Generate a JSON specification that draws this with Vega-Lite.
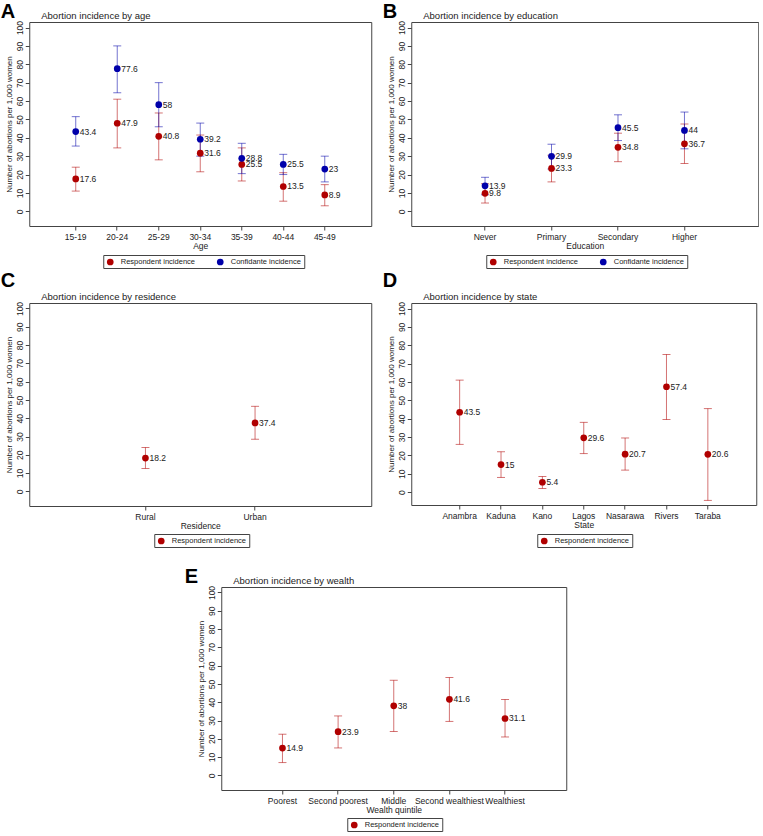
{
  "$schema": "https://vega.github.io/schema/vega-lite/v6.json",
  "background": "white",
  "padding": {"left": 0, "top": 2, "right": 0, "bottom": 0},
  "config": {
    "font": "Liberation Sans",
    "view": {"stroke": "#444", "strokeWidth": 1},
    "axis": {"labelFontSize": 8.5, "titleFontSize": 8, "titleFontWeight": "normal", "labelColor": "#222", "titleColor": "#222", "tickColor": "#444", "grid": false, "domain": false, "tickSize": 4},
    "axisX": {"labelAngle": 0, "labelPadding": 2, "titlePadding": 1, "titleFontSize": 8.5},
    "axisY": {"labelAngle": 270, "labelAlign": "center", "labelBaseline": "bottom", "labelPadding": 1, "titlePadding": 2, "labelOverlap": false},
    "legend": {"orient": "none", "direction": "horizontal", "strokeColor": "#444", "padding": 2.5, "labelFontSize": 7.5, "labelColor": "#222", "symbolType": "circle", "symbolSize": 45, "columnPadding": 20, "labelOffset": 6},
    "title": {"color": "#222"}
  },
  "datasets": {
    "age": [
      {"grp": "15-19", "series": "Respondent incidence", "value": 17.6, "lo": 11, "hi": 24},
      {"grp": "20-24", "series": "Respondent incidence", "value": 47.9, "lo": 34.5, "hi": 61},
      {"grp": "25-29", "series": "Respondent incidence", "value": 40.8, "lo": 28, "hi": 53.5},
      {"grp": "30-34", "series": "Respondent incidence", "value": 31.6, "lo": 21.5, "hi": 41.5},
      {"grp": "35-39", "series": "Respondent incidence", "value": 25.5, "lo": 16.5, "hi": 34.5},
      {"grp": "40-44", "series": "Respondent incidence", "value": 13.5, "lo": 5.5, "hi": 21},
      {"grp": "45-49", "series": "Respondent incidence", "value": 8.9, "lo": 3, "hi": 14.5},
      {"grp": "15-19", "series": "Confidante incidence", "value": 43.4, "lo": 35.5, "hi": 51.5},
      {"grp": "20-24", "series": "Confidante incidence", "value": 77.6, "lo": 64.5, "hi": 90},
      {"grp": "25-29", "series": "Confidante incidence", "value": 58, "lo": 46, "hi": 70},
      {"grp": "30-34", "series": "Confidante incidence", "value": 39.2, "lo": 30, "hi": 48},
      {"grp": "35-39", "series": "Confidante incidence", "value": 28.8, "lo": 20.5, "hi": 37},
      {"grp": "40-44", "series": "Confidante incidence", "value": 25.5, "lo": 20, "hi": 31},
      {"grp": "45-49", "series": "Confidante incidence", "value": 23, "lo": 16, "hi": 30}
    ],
    "edu": [
      {"grp": "Never", "series": "Respondent incidence", "value": 9.8, "lo": 4.5, "hi": 15},
      {"grp": "Primary", "series": "Respondent incidence", "value": 23.3, "lo": 16, "hi": 30.5},
      {"grp": "Secondary", "series": "Respondent incidence", "value": 34.8, "lo": 27, "hi": 42.5},
      {"grp": "Higher", "series": "Respondent incidence", "value": 36.7, "lo": 26, "hi": 47.5},
      {"grp": "Never", "series": "Confidante incidence", "value": 13.9, "lo": 9, "hi": 18.5},
      {"grp": "Primary", "series": "Confidante incidence", "value": 29.9, "lo": 23, "hi": 36.5},
      {"grp": "Secondary", "series": "Confidante incidence", "value": 45.5, "lo": 38.5, "hi": 52.5},
      {"grp": "Higher", "series": "Confidante incidence", "value": 44, "lo": 34, "hi": 54}
    ],
    "res": [
      {"grp": "Rural", "series": "Respondent incidence", "value": 18.2, "lo": 12.5, "hi": 24},
      {"grp": "Urban", "series": "Respondent incidence", "value": 37.4, "lo": 28.5, "hi": 46.5}
    ],
    "state": [
      {"grp": "Anambra", "series": "Respondent incidence", "value": 43.5, "lo": 26, "hi": 61},
      {"grp": "Kaduna", "series": "Respondent incidence", "value": 15, "lo": 8, "hi": 22},
      {"grp": "Kano", "series": "Respondent incidence", "value": 5.4, "lo": 2, "hi": 8.5},
      {"grp": "Lagos", "series": "Respondent incidence", "value": 29.6, "lo": 21, "hi": 38},
      {"grp": "Nasarawa", "series": "Respondent incidence", "value": 20.7, "lo": 12, "hi": 29.5},
      {"grp": "Rivers", "series": "Respondent incidence", "value": 57.4, "lo": 39.5, "hi": 75},
      {"grp": "Taraba", "series": "Respondent incidence", "value": 20.6, "lo": -4.5, "hi": 45.5}
    ],
    "wealth": [
      {"grp": "Poorest", "series": "Respondent incidence", "value": 14.9, "lo": 7, "hi": 22.5},
      {"grp": "Second poorest", "series": "Respondent incidence", "value": 23.9, "lo": 15, "hi": 32.5},
      {"grp": "Middle", "series": "Respondent incidence", "value": 38, "lo": 24, "hi": 52},
      {"grp": "Second wealthiest", "series": "Respondent incidence", "value": 41.6, "lo": 29.5, "hi": 53.5},
      {"grp": "Wealthiest", "series": "Respondent incidence", "value": 31.1, "lo": 21, "hi": 41.5}
    ]
  },
  "resolve": {"scale": {"x": "independent", "y": "independent", "color": "independent"}, "legend": {"color": "independent"}},
  "center": true,
  "spacing": 19,
  "vconcat": [
    {
      "resolve": {"scale": {"x": "independent", "y": "independent", "color": "independent"}, "legend": {"color": "independent"}},
      "spacing": 2,
      "vconcat": [
        {
          "resolve": {"scale": {"x": "independent", "y": "independent", "color": "independent"}, "legend": {"color": "independent"}},
          "spacing": 10,
          "hconcat": [
            {
              "title": {"text": "A", "anchor": "start", "frame": "bounds", "fontSize": 20, "fontWeight": "bold", "color": "black", "offset": -12, "dx": -4},
              "resolve": {"scale": {"x": "independent", "y": "independent", "color": "independent"}, "legend": {"color": "independent"}},
              "vconcat": [
                {
                  "width": 342,
                  "height": 204,
                  "title": {"text": "Abortion incidence by age", "anchor": "start", "frame": "group", "dx": 12, "fontSize": 9.5, "fontWeight": "normal", "offset": 0},
                  "data": {"name": "age"},
                  "encoding": {
                    "x": {"field": "grp", "type": "ordinal", "sort": null, "scale": {"type": "band", "paddingInner": 0, "paddingOuter": 0.62}, "axis": {"title": "Age"}},
                    "y": {"field": "value", "type": "quantitative", "scale": {"domain": [-8, 103], "nice": false, "zero": false}, "axis": {"title": "Number of abortions per 1,000 women", "values": [0, 10, 20, 30, 40, 50, 60, 70, 80, 90, 100]}}
                  },
                  "layer": [
                    {"transform": [{"filter": "datum.series === 'Respondent incidence'"}], "mark": {"type": "rule", "color": "#b00000", "opacity": 0.55}, "encoding": {"y": {"field": "lo", "type": "quantitative", "axis": {"title": "Number of abortions per 1,000 women", "values": [0, 10, 20, 30, 40, 50, 60, 70, 80, 90, 100]}}, "y2": {"field": "hi"}}},
                    {"transform": [{"filter": "datum.series === 'Respondent incidence'"}], "mark": {"type": "tick", "color": "#b00000", "opacity": 0.55, "size": 8, "thickness": 1}, "encoding": {"y": {"field": "lo", "type": "quantitative", "axis": {"title": "Number of abortions per 1,000 women", "values": [0, 10, 20, 30, 40, 50, 60, 70, 80, 90, 100]}}}},
                    {"transform": [{"filter": "datum.series === 'Respondent incidence'"}], "mark": {"type": "tick", "color": "#b00000", "opacity": 0.55, "size": 8, "thickness": 1}, "encoding": {"y": {"field": "hi", "type": "quantitative", "axis": {"title": "Number of abortions per 1,000 women", "values": [0, 10, 20, 30, 40, 50, 60, 70, 80, 90, 100]}}}},
                    {"transform": [{"filter": "datum.series === 'Confidante incidence'"}], "mark": {"type": "rule", "color": "#0000aa", "opacity": 0.55}, "encoding": {"y": {"field": "lo", "type": "quantitative", "axis": {"title": "Number of abortions per 1,000 women", "values": [0, 10, 20, 30, 40, 50, 60, 70, 80, 90, 100]}}, "y2": {"field": "hi"}}},
                    {"transform": [{"filter": "datum.series === 'Confidante incidence'"}], "mark": {"type": "tick", "color": "#0000aa", "opacity": 0.55, "size": 8, "thickness": 1}, "encoding": {"y": {"field": "lo", "type": "quantitative", "axis": {"title": "Number of abortions per 1,000 women", "values": [0, 10, 20, 30, 40, 50, 60, 70, 80, 90, 100]}}}},
                    {"transform": [{"filter": "datum.series === 'Confidante incidence'"}], "mark": {"type": "tick", "color": "#0000aa", "opacity": 0.55, "size": 8, "thickness": 1}, "encoding": {"y": {"field": "hi", "type": "quantitative", "axis": {"title": "Number of abortions per 1,000 women", "values": [0, 10, 20, 30, 40, 50, 60, 70, 80, 90, 100]}}}},
                    {"mark": {"type": "circle", "size": 45, "opacity": 1}, "encoding": {"color": {"field": "series", "type": "nominal", "sort": null, "scale": {"domain": ["Respondent incidence", "Confidante incidence"], "range": ["#b00000", "#0000aa"]}, "legend": {"title": null, "orient": "none", "legendX": 74, "legendY": 233}}}},
                    {"mark": {"type": "text", "align": "left", "dx": 4, "fontSize": 8.5, "color": "#222"}, "encoding": {"text": {"field": "value", "type": "quantitative"}}}
                  ]
                }
              ]
            },
            {
              "title": {"text": "B", "anchor": "start", "frame": "bounds", "fontSize": 20, "fontWeight": "bold", "color": "black", "offset": -12, "dx": -4},
              "resolve": {"scale": {"x": "independent", "y": "independent", "color": "independent"}, "legend": {"color": "independent"}},
              "vconcat": [
                {
                  "width": 347,
                  "height": 204,
                  "title": {"text": "Abortion incidence by education", "anchor": "start", "frame": "group", "dx": 12, "fontSize": 9.5, "fontWeight": "normal", "offset": 0},
                  "data": {"name": "edu"},
                  "encoding": {
                    "x": {"field": "grp", "type": "ordinal", "sort": null, "scale": {"type": "band", "paddingInner": 0, "paddingOuter": 0.61}, "axis": {"title": "Education"}},
                    "y": {"field": "value", "type": "quantitative", "scale": {"domain": [-8, 103], "nice": false, "zero": false}, "axis": {"title": "Number of abortions per 1,000 women", "values": [0, 10, 20, 30, 40, 50, 60, 70, 80, 90, 100]}}
                  },
                  "layer": [
                    {"transform": [{"filter": "datum.series === 'Respondent incidence'"}], "mark": {"type": "rule", "color": "#b00000", "opacity": 0.55}, "encoding": {"y": {"field": "lo", "type": "quantitative", "axis": {"title": "Number of abortions per 1,000 women", "values": [0, 10, 20, 30, 40, 50, 60, 70, 80, 90, 100]}}, "y2": {"field": "hi"}}},
                    {"transform": [{"filter": "datum.series === 'Respondent incidence'"}], "mark": {"type": "tick", "color": "#b00000", "opacity": 0.55, "size": 8, "thickness": 1}, "encoding": {"y": {"field": "lo", "type": "quantitative", "axis": {"title": "Number of abortions per 1,000 women", "values": [0, 10, 20, 30, 40, 50, 60, 70, 80, 90, 100]}}}},
                    {"transform": [{"filter": "datum.series === 'Respondent incidence'"}], "mark": {"type": "tick", "color": "#b00000", "opacity": 0.55, "size": 8, "thickness": 1}, "encoding": {"y": {"field": "hi", "type": "quantitative", "axis": {"title": "Number of abortions per 1,000 women", "values": [0, 10, 20, 30, 40, 50, 60, 70, 80, 90, 100]}}}},
                    {"transform": [{"filter": "datum.series === 'Confidante incidence'"}], "mark": {"type": "rule", "color": "#0000aa", "opacity": 0.55}, "encoding": {"y": {"field": "lo", "type": "quantitative", "axis": {"title": "Number of abortions per 1,000 women", "values": [0, 10, 20, 30, 40, 50, 60, 70, 80, 90, 100]}}, "y2": {"field": "hi"}}},
                    {"transform": [{"filter": "datum.series === 'Confidante incidence'"}], "mark": {"type": "tick", "color": "#0000aa", "opacity": 0.55, "size": 8, "thickness": 1}, "encoding": {"y": {"field": "lo", "type": "quantitative", "axis": {"title": "Number of abortions per 1,000 women", "values": [0, 10, 20, 30, 40, 50, 60, 70, 80, 90, 100]}}}},
                    {"transform": [{"filter": "datum.series === 'Confidante incidence'"}], "mark": {"type": "tick", "color": "#0000aa", "opacity": 0.55, "size": 8, "thickness": 1}, "encoding": {"y": {"field": "hi", "type": "quantitative", "axis": {"title": "Number of abortions per 1,000 women", "values": [0, 10, 20, 30, 40, 50, 60, 70, 80, 90, 100]}}}},
                    {"mark": {"type": "circle", "size": 45, "opacity": 1}, "encoding": {"color": {"field": "series", "type": "nominal", "sort": null, "scale": {"domain": ["Respondent incidence", "Confidante incidence"], "range": ["#b00000", "#0000aa"]}, "legend": {"title": null, "orient": "none", "legendX": 75, "legendY": 233}}}},
                    {"mark": {"type": "text", "align": "left", "dx": 4, "fontSize": 8.5, "color": "#222"}, "encoding": {"text": {"field": "value", "type": "quantitative"}}}
                  ]
                }
              ]
            }
          ]
        },
        {
          "resolve": {"scale": {"x": "independent", "y": "independent", "color": "independent"}, "legend": {"color": "independent"}},
          "spacing": 10,
          "hconcat": [
            {
              "title": {"text": "C", "anchor": "start", "frame": "bounds", "fontSize": 20, "fontWeight": "bold", "color": "black", "offset": 0, "dx": -4},
              "resolve": {"scale": {"x": "independent", "y": "independent", "color": "independent"}, "legend": {"color": "independent"}},
              "vconcat": [
                {
                  "width": 342,
                  "height": 203,
                  "title": {"text": "Abortion incidence by residence", "anchor": "start", "frame": "group", "dx": 12, "fontSize": 9.5, "fontWeight": "normal", "offset": 0},
                  "data": {"name": "res"},
                  "encoding": {
                    "x": {"field": "grp", "type": "ordinal", "sort": null, "scale": {"type": "band", "paddingInner": 0, "paddingOuter": 0.56}, "axis": {"title": "Residence"}},
                    "y": {"field": "value", "type": "quantitative", "scale": {"domain": [-8, 103], "nice": false, "zero": false}, "axis": {"title": "Number of abortions per 1,000 women", "values": [0, 10, 20, 30, 40, 50, 60, 70, 80, 90, 100]}}
                  },
                  "layer": [
                    {"mark": {"type": "rule", "color": "#b00000", "opacity": 0.55}, "encoding": {"y": {"field": "lo", "type": "quantitative", "axis": {"title": "Number of abortions per 1,000 women", "values": [0, 10, 20, 30, 40, 50, 60, 70, 80, 90, 100]}}, "y2": {"field": "hi"}}},
                    {"mark": {"type": "tick", "color": "#b00000", "opacity": 0.55, "size": 8, "thickness": 1}, "encoding": {"y": {"field": "lo", "type": "quantitative", "axis": {"title": "Number of abortions per 1,000 women", "values": [0, 10, 20, 30, 40, 50, 60, 70, 80, 90, 100]}}}},
                    {"mark": {"type": "tick", "color": "#b00000", "opacity": 0.55, "size": 8, "thickness": 1}, "encoding": {"y": {"field": "hi", "type": "quantitative", "axis": {"title": "Number of abortions per 1,000 women", "values": [0, 10, 20, 30, 40, 50, 60, 70, 80, 90, 100]}}}},
                    {"mark": {"type": "circle", "size": 45, "opacity": 1}, "encoding": {"color": {"field": "series", "type": "nominal", "scale": {"domain": ["Respondent incidence"], "range": ["#b00000"]}, "legend": {"title": null, "orient": "none", "legendX": 125, "legendY": 231}}}},
                    {"mark": {"type": "text", "align": "left", "dx": 4, "fontSize": 8.5, "color": "#222"}, "encoding": {"text": {"field": "value", "type": "quantitative"}}}
                  ]
                }
              ]
            },
            {
              "title": {"text": "D", "anchor": "start", "frame": "bounds", "fontSize": 20, "fontWeight": "bold", "color": "black", "offset": 0, "dx": -4},
              "resolve": {"scale": {"x": "independent", "y": "independent", "color": "independent"}, "legend": {"color": "independent"}},
              "vconcat": [
                {
                  "width": 345,
                  "height": 202,
                  "title": {"text": "Abortion incidence by state", "anchor": "start", "frame": "group", "dx": 12, "fontSize": 9.5, "fontWeight": "normal", "offset": 0},
                  "data": {"name": "state"},
                  "encoding": {
                    "x": {"field": "grp", "type": "ordinal", "sort": null, "scale": {"type": "band", "paddingInner": 0, "paddingOuter": 0.67}, "axis": {"title": "State"}},
                    "y": {"field": "value", "type": "quantitative", "scale": {"domain": [-7, 103], "nice": false, "zero": false}, "axis": {"title": "Number of abortions per 1,000 women", "values": [0, 10, 20, 30, 40, 50, 60, 70, 80, 90, 100]}}
                  },
                  "layer": [
                    {"mark": {"type": "rule", "color": "#b00000", "opacity": 0.55}, "encoding": {"y": {"field": "lo", "type": "quantitative", "axis": {"title": "Number of abortions per 1,000 women", "values": [0, 10, 20, 30, 40, 50, 60, 70, 80, 90, 100]}}, "y2": {"field": "hi"}}},
                    {"mark": {"type": "tick", "color": "#b00000", "opacity": 0.55, "size": 8, "thickness": 1}, "encoding": {"y": {"field": "lo", "type": "quantitative", "axis": {"title": "Number of abortions per 1,000 women", "values": [0, 10, 20, 30, 40, 50, 60, 70, 80, 90, 100]}}}},
                    {"mark": {"type": "tick", "color": "#b00000", "opacity": 0.55, "size": 8, "thickness": 1}, "encoding": {"y": {"field": "hi", "type": "quantitative", "axis": {"title": "Number of abortions per 1,000 women", "values": [0, 10, 20, 30, 40, 50, 60, 70, 80, 90, 100]}}}},
                    {"mark": {"type": "circle", "size": 45, "opacity": 1}, "encoding": {"color": {"field": "series", "type": "nominal", "scale": {"domain": ["Respondent incidence"], "range": ["#b00000"]}, "legend": {"title": null, "orient": "none", "legendX": 126, "legendY": 231}}}},
                    {"mark": {"type": "text", "align": "left", "dx": 4, "fontSize": 8.5, "color": "#222"}, "encoding": {"text": {"field": "value", "type": "quantitative"}}}
                  ]
                }
              ]
            }
          ]
        }
      ]
    },
    {
      "title": {"text": "E", "anchor": "start", "frame": "bounds", "fontSize": 20, "fontWeight": "bold", "color": "black", "offset": -12, "dx": -12},
      "resolve": {"scale": {"x": "independent", "y": "independent", "color": "independent"}, "legend": {"color": "independent"}},
      "vconcat": [
        {
          "width": 345,
          "height": 203,
          "title": {"text": "Abortion incidence by wealth", "anchor": "start", "frame": "group", "dx": 12, "fontSize": 9.5, "fontWeight": "normal", "offset": 0},
          "data": {"name": "wealth"},
          "encoding": {
            "x": {"field": "grp", "type": "ordinal", "sort": null, "scale": {"type": "band", "paddingInner": 0, "paddingOuter": 0.6}, "axis": {"title": "Wealth quintile"}},
            "y": {"field": "value", "type": "quantitative", "scale": {"domain": [-8, 103], "nice": false, "zero": false}, "axis": {"title": "Number of abortions per 1,000 women", "values": [0, 10, 20, 30, 40, 50, 60, 70, 80, 90, 100]}}
          },
          "layer": [
            {"mark": {"type": "rule", "color": "#b00000", "opacity": 0.55}, "encoding": {"y": {"field": "lo", "type": "quantitative", "axis": {"title": "Number of abortions per 1,000 women", "values": [0, 10, 20, 30, 40, 50, 60, 70, 80, 90, 100]}}, "y2": {"field": "hi"}}},
            {"mark": {"type": "tick", "color": "#b00000", "opacity": 0.55, "size": 8, "thickness": 1}, "encoding": {"y": {"field": "lo", "type": "quantitative", "axis": {"title": "Number of abortions per 1,000 women", "values": [0, 10, 20, 30, 40, 50, 60, 70, 80, 90, 100]}}}},
            {"mark": {"type": "tick", "color": "#b00000", "opacity": 0.55, "size": 8, "thickness": 1}, "encoding": {"y": {"field": "hi", "type": "quantitative", "axis": {"title": "Number of abortions per 1,000 women", "values": [0, 10, 20, 30, 40, 50, 60, 70, 80, 90, 100]}}}},
            {"mark": {"type": "circle", "size": 45, "opacity": 1}, "encoding": {"color": {"field": "series", "type": "nominal", "scale": {"domain": ["Respondent incidence"], "range": ["#b00000"]}, "legend": {"title": null, "orient": "none", "legendX": 126, "legendY": 231}}}},
            {"mark": {"type": "text", "align": "left", "dx": 4, "fontSize": 8.5, "color": "#222"}, "encoding": {"text": {"field": "value", "type": "quantitative"}}}
          ]
        }
      ]
    }
  ]
}
